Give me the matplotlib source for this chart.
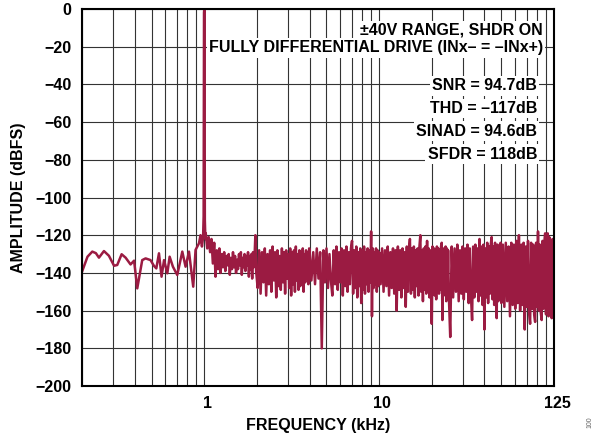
import matplotlib
matplotlib.use('Agg')
import matplotlib.pyplot as plt
import matplotlib.transforms as mtransforms
import numpy as np

plt.rcParams['font.family'] = ['Liberation Sans', 'DejaVu Sans']
plt.rcParams['font.weight'] = 'bold'

# low frequency part (kHz, dBFS)
freq_lf = [0.200, 0.215, 0.229, 0.240, 0.250, 0.267, 0.285, 0.305, 0.318, 0.337, 0.355,
           0.379, 0.397, 0.414, 0.442, 0.462, 0.493, 0.516, 0.532, 0.551, 0.570, 0.589,
           0.615, 0.634, 0.662, 0.701, 0.749, 0.782, 0.818, 0.865, 0.892, 0.933, 0.952]
amp_lf = [-139.4, -131.4, -128.7, -129.5, -131.9, -128.4, -130.9, -136.2, -135.8, -130.1, -131.9,
          -135.5, -133.5, -148.2, -133.2, -132.3, -133.2, -136.3, -137.6, -129.6, -142.0, -133.2,
          -140.2, -131.4, -136.7, -141.1, -128.7, -136.7, -128.7, -147.3, -127.8, -124.3, -120.0]

# fundamental tone at 1 kHz
freq_tone = [0.970, 0.985, 0.992, 0.997, 1.000, 1.003, 1.008, 1.015]
amp_tone = [-126, -121, -110, -2, 0, -1, -112, -122]

# noise floor 1 kHz - 2 kHz
freq_nf1 = [1.02, 1.04, 1.06, 1.08, 1.10, 1.12, 1.14, 1.16, 1.18, 1.20, 1.22, 1.24, 1.26,
            1.28, 1.30, 1.32, 1.34, 1.36, 1.38, 1.40, 1.42, 1.44, 1.46, 1.48, 1.50, 1.52,
            1.54, 1.56, 1.58, 1.60, 1.62, 1.64, 1.66, 1.68, 1.70, 1.72, 1.74, 1.76, 1.78,
            1.80, 1.82, 1.84, 1.86, 1.88, 1.90, 1.92, 1.94, 1.96, 1.98]
amp_nf1 = [-119, -127, -121, -129, -122, -135, -124, -142, -128, -138, -127, -140, -130,
           -137, -129, -139, -131, -136, -130, -141, -132, -138, -129, -137, -131, -140,
           -133, -138, -130, -136, -129, -141, -132, -137, -130, -139, -131, -136, -129,
           -142, -131, -138, -130, -143, -129, -137, -131, -120, -139]

# noise floor 2 kHz - 4 kHz
freq_nf2 = [2.02, 2.06, 2.10, 2.14, 2.18, 2.22, 2.26, 2.30, 2.34, 2.38, 2.42, 2.46, 2.50,
            2.54, 2.58, 2.62, 2.66, 2.70, 2.74, 2.78, 2.82, 2.86, 2.90, 2.94, 2.98, 3.02,
            3.06, 3.10, 3.14, 3.18, 3.22, 3.26, 3.30, 3.34, 3.38, 3.42, 3.46, 3.50, 3.54,
            3.58, 3.62, 3.66, 3.70, 3.74, 3.78, 3.82, 3.86, 3.90, 3.94, 3.98]
amp_nf2 = [-148, -128, -151, -129, -145, -127, -152, -130, -146, -128,
           -150, -126, -144, -129, -153, -128, -147, -131, -149, -127,
           -145, -129, -151, -128, -143, -130, -148, -127, -152, -129,
           -146, -128, -150, -126, -144, -130, -149, -128, -147, -129,
           -142, -127, -150, -130, -145, -128, -143, -129, -146, -127]

# noise floor 4 kHz - 10 kHz
freq_nf3 = [4.0, 4.1, 4.2, 4.3, 4.4, 4.5, 4.6, 4.7, 4.8, 4.9, 5.0, 5.1, 5.2, 5.3, 5.4,
            5.5, 5.6, 5.7, 5.8, 5.9, 6.0, 6.1, 6.2, 6.3, 6.4, 6.5, 6.6, 6.7, 6.8, 6.9,
            7.0, 7.1, 7.2, 7.3, 7.4, 7.5, 7.6, 7.7, 7.8, 7.9, 8.0, 8.1, 8.2, 8.3, 8.4,
            8.5, 8.6, 8.7, 8.8, 8.9, 9.0, 9.1, 9.2, 9.3, 9.4, 9.5, 9.6, 9.7, 9.8, 9.9]
amp_nf3 = [-128, -144, -129, -146, -127, -143, -129, -180, -128, -145, -127, -148, -130, -144, -152,
           -128, -146, -126, -149, -129, -145, -127, -152, -128, -147, -126, -150, -129, -146, -127,
           -123, -151, -128, -148, -126, -153, -129, -147, -127, -156, -128, -149, -126, -151, -129,
           -146, -127, -150, -128, -145, -118, -163, -127, -148, -129, -146, -127, -150, -128, -147]

# noise floor 10 kHz - 25 kHz
freq_nf4 = [10.0, 10.2, 10.4, 10.6, 10.8, 11.0, 11.2, 11.4, 11.6, 11.8, 12.0, 12.2, 12.4,
            12.6, 12.8, 13.0, 13.2, 13.4, 13.6, 13.8, 14.0, 14.2, 14.4, 14.6, 14.8, 15.0,
            15.2, 15.4, 15.6, 15.8, 16.0, 16.2, 16.4, 16.6, 16.8, 17.0, 17.2, 17.4, 17.6,
            17.8, 18.0, 18.2, 18.4, 18.6, 18.8, 19.0, 19.2, 19.4, 19.6, 19.8, 20.0, 20.2,
            20.4, 20.6, 20.8, 21.0, 21.2, 21.4, 21.6, 21.8, 22.0, 22.2, 22.4, 22.6, 22.8,
            23.0, 23.2, 23.4, 23.6, 23.8, 24.0, 24.2, 24.4, 24.6, 24.8]
amp_nf4 = [-129, -146, -127, -150, -128, -147, -126, -152, -129, -148, -127, -151, -128,
           -160, -126, -149, -128, -153, -127, -148, -129, -158, -126, -150, -128, -122,
           -151, -127, -149, -126, -153, -128, -147, -127, -152, -126, -120, -150, -128,
           -155, -127, -149, -126, -151, -123, -148, -127, -153, -128, -150, -167, -126,
           -149, -127, -152, -128, -154, -126, -148, -127, -151, -128, -149, -126, -124,
           -165, -127, -152, -128, -150, -126, -155, -127, -151, -128]

# noise floor 25 kHz - 50 kHz
freq_nf5 = [25.0, 25.5, 26.0, 26.5, 27.0, 27.5, 28.0, 28.5, 29.0, 29.5, 30.0, 30.5, 31.0,
            31.5, 32.0, 32.5, 33.0, 33.5, 34.0, 34.5, 35.0, 35.5, 36.0, 36.5, 37.0, 37.5,
            38.0, 38.5, 39.0, 39.5, 40.0, 40.5, 41.0, 41.5, 42.0, 42.5, 43.0, 43.5, 44.0,
            44.5, 45.0, 45.5, 46.0, 46.5, 47.0, 47.5, 48.0, 48.5, 49.0, 49.5]
amp_nf5 = [-150, -174, -126, -153, -127, -150, -125, -155, -128, -151, -126, -154, -127,
           -150, -125, -156, -127, -152, -165, -126, -153, -125, -150, -127, -155, -122,
           -152, -126, -157, -125, -170, -127, -153, -124, -156, -126, -151, -125, -121,
           -154, -126, -157, -124, -152, -164, -125, -155, -126, -153, -124]

# noise floor 50 kHz - end
freq_nf6 = [50, 51, 52, 53, 54, 55, 56, 57, 58, 59, 60, 61, 62, 63, 64, 65, 66, 67, 68,
            69, 70, 71, 72, 73, 74, 75, 76, 77, 78, 79, 80, 81, 82, 83, 84, 85, 86, 87,
            88, 89, 90, 91, 92, 93, 94, 95, 96, 97, 98, 99, 100]
amp_nf6 = [-156, -125, -158, -124, -155, -126, -163, -124, -157, -125, -159, -123, -156,
           -120, -160, -125, -157, -124, -170, -126, -158, -123, -161, -167, -124, -159,
           -125, -162, -166, -124, -158, -118, -160, -125, -161, -165, -123, -159, -124,
           -119, -162, -125, -119, -163, -121, -160, -124, -164, -122, -161, -140]

yticks = [0, -20, -40, -60, -80, -100, -120, -140, -160, -180, -200]
xtick_pos = [1, 10, 100]
xtick_labels = ['1', '10', '125']
notes_top = ['±40V RANGE, SHDR ON', 'FULLY DIFFERENTIAL DRIVE (INx– = –INx+)']
notes_stats = ['SNR = 94.7dB', 'THD = –117dB', 'SINAD = 94.6dB', 'SFDR = 118dB']

freq = np.concatenate([freq_lf, freq_tone, freq_nf1, freq_nf2, freq_nf3,
                       freq_nf4, freq_nf5, freq_nf6])
amp = np.concatenate([amp_lf, amp_tone, amp_nf1, amp_nf2, amp_nf3,
                      amp_nf4, amp_nf5, amp_nf6])

fig = plt.figure(figsize=(5.99, 4.44), dpi=100)
ax = fig.add_axes([0.1369, 0.1306, 0.7880, 0.8491])

ax.plot(freq, amp, color='#9b1b42', linewidth=1.8, zorder=2)

ax.set_xscale('log')
ax.set_xlim(0.2, 100)
ax.set_ylim(-200, 0)
ax.set_yticks(yticks)
ax.set_xticks(xtick_pos)
ax.set_xticklabels(xtick_labels)
ax.xaxis.set_minor_formatter(matplotlib.ticker.NullFormatter())
ax.tick_params(axis='both', which='both', length=0, labelsize=11.5, pad=7.5)

# labels in the original sit a few pixels right of their grid line
shift = mtransforms.ScaledTranslation(3 / 100, 0, fig.dpi_scale_trans)
for lab in ax.get_xticklabels():
    lab.set_transform(lab.get_transform() + shift)

ax.grid(True, which='both', color='#333333', linewidth=0.8)
ax.set_axisbelow(True)
for s in ax.spines.values():
    s.set_linewidth(1.5)
    s.set_color('black')

ax.set_xlabel('FREQUENCY (kHz)', fontsize=11.5, fontweight='bold', labelpad=5)
ax.set_ylabel('AMPLITUDE (dBFS)', fontsize=11.5, fontweight='bold', labelpad=7)

box = dict(facecolor='white', edgecolor='none', pad=1.5)
for txt, yy in zip(notes_top, [0.944, 0.8966]):
    ax.text(0.977, yy, txt, transform=ax.transAxes, ha='right', va='center',
            fontsize=11.5, fontweight='bold', bbox=box, zorder=5)
for txt, yy in zip(notes_stats, [0.7958, 0.736, 0.6764, 0.6154]):
    ax.text(0.964, yy, txt, transform=ax.transAxes, ha='right', va='center',
            fontsize=11.5, fontweight='bold', bbox=box, zorder=5)

fig.text(0.985, 0.05, '100', rotation=90, fontsize=5, color='#666666',
         fontweight='normal', ha='center', va='center')

fig.savefig('out.png', dpi=100)
